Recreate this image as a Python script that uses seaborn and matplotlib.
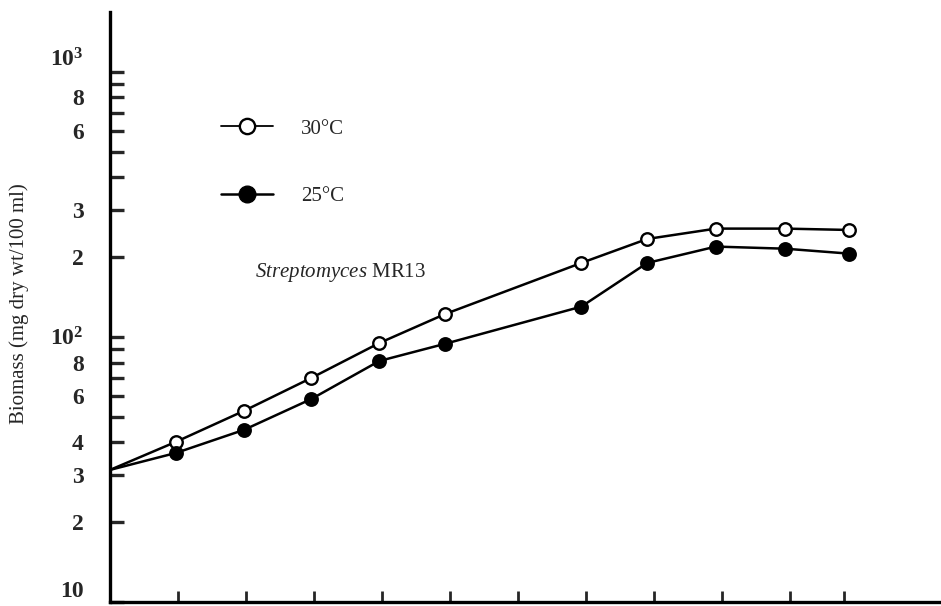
import pandas as pd
import matplotlib.pyplot as plt
import seaborn as sns
import numpy as np
from matplotlib.ticker import FixedLocator, NullFormatter
from matplotlib.lines import Line2D

# Datos (eje y logaritmico)
tiempo = [0, 0.97, 1.97, 2.96, 3.96, 4.93, 6.93, 7.9, 8.91, 9.93, 10.87]
biomasa_30 = [31.5, 40.2, 52.6, 70.0, 94.8, 122, 190, 234, 256, 256, 253]
biomasa_25 = [31.5, 36.5, 44.6, 58.3, 81.1, 94.2, 130, 190, 219, 215, 206]

x_ticks = [1, 2, 3, 4, 5, 6, 7, 8, 9, 10, 10.8]
y_major = [10, 20, 30, 40, 60, 80, 100, 200, 300, 600, 800, 1000]
y_labels = ['10', '2', '3', '4', '6', '8', r'$\mathbf{10^2}$', '2', '3', '6', '8', r'$\mathbf{10^3}$']
y_minor = [50, 70, 90, 400, 500, 700, 900]

df = pd.concat([
    pd.DataFrame({'Tiempo': tiempo, 'Biomasa': biomasa_30, 'Temp': '30°C'}),
    pd.DataFrame({'Tiempo': tiempo, 'Biomasa': biomasa_25, 'Temp': '25°C'}),
])

sns.set_style('white')
plt.rcParams['font.family'] = ['Liberation Serif', 'DejaVu Serif']
plt.rcParams['mathtext.fontset'] = 'custom'
plt.rcParams['mathtext.rm'] = 'Liberation Serif'
plt.rcParams['mathtext.it'] = 'Liberation Serif:italic'
plt.rcParams['mathtext.bf'] = 'Liberation Serif:bold'

fig = plt.figure(figsize=(9.41, 6.06), dpi=100)
ax = fig.add_axes([0.117, 0.0066, 0.883, 0.974])

# el primer punto (t=0) no lleva marcador
estilos = {'30°C': 'white', '25°C': 'black'}
for temp, relleno in estilos.items():
    sns.lineplot(
        x='Tiempo', y='Biomasa', data=df[df['Temp'] == temp],
        color='black', linewidth=1.8, marker='o', markersize=9,
        markerfacecolor=relleno, markeredgecolor='black', markeredgewidth=1.7,
        markevery=list(range(1, len(tiempo))), ax=ax, legend=False
    )

ax.set_yscale('log')
ax.set_ylim(10, 1683)
ax.set_xlim(0, 12.22)

# Ejes estilo publicacion
for lado in ['top', 'right']:
    ax.spines[lado].set_visible(False)
for lado in ['left', 'bottom']:
    ax.spines[lado].set_linewidth(2.4)
    ax.spines[lado].set_color('black')

ax.yaxis.set_major_locator(FixedLocator(y_major))
ax.set_yticklabels(y_labels, fontsize=17, fontweight='bold')
ax.yaxis.set_minor_locator(FixedLocator(y_minor))
ax.yaxis.set_minor_formatter(NullFormatter())
ax.tick_params(axis='y', which='both', direction='in', length=10, width=2.4, pad=19, left=True)
etiquetas = ax.get_yticklabels()
etiquetas[0].set_va('bottom')
etiquetas[-1].set_va('bottom')

ax.set_xticks(x_ticks)
ax.set_xticklabels([])
ax.tick_params(axis='x', direction='in', length=8, width=2, bottom=True)

ax.set_xlabel('')
ax.set_ylabel('Biomass (mg dry wt/100 ml)', fontsize=15)
ax.yaxis.set_label_coords(-0.097, 0.505)

# Leyenda
handles = [
    Line2D([], [], color='black', linewidth=1.3, marker='o', markersize=11,
           markerfacecolor='white', markeredgecolor='black', markeredgewidth=1.7),
    Line2D([], [], color='black', linewidth=1.8, marker='o', markersize=12,
           markerfacecolor='black', markeredgecolor='black'),
]
ax.legend(handles, ['30°C', '25°C'], loc='upper left', bbox_to_anchor=(0.111, 0.85),
          frameon=False, fontsize=15, handlelength=2.5, handletextpad=1.35,
          labelspacing=2.3)

ax.text(0.1745, 0.558, r'$\mathit{Streptomyces}$ MR13', transform=ax.transAxes,
        fontsize=15, ha='left', va='center')

plt.savefig('out.png', dpi=100)
